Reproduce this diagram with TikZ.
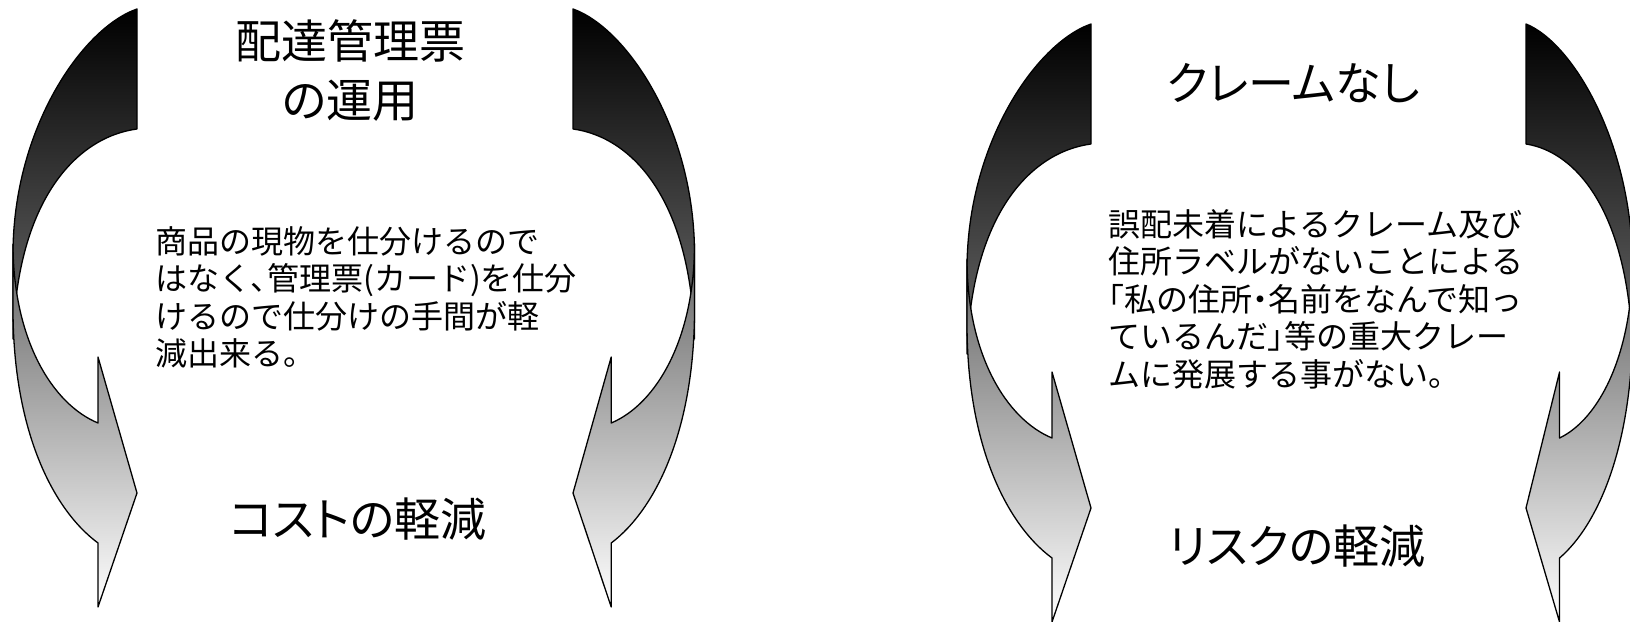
\documentclass[tikz,border=0pt]{standalone}
\usepackage{fontspec}
\newfontfamily\jp{Noto Sans CJK JP}
\newfontfamily\jpp[RawFeature=+palt]{Noto Sans CJK JP}

\newcommand{\backband}{(0,0) .. controls (-55,19) and (-124,120) .. (-124,245) -- (-124,330) .. controls (-120,190) and (-60,128) .. (0,120) -- cycle}
\newcommand{\frontband}{(-124,235) .. controls (-124,330) and (-85,395) .. (-39,414) -- (-39,348) -- (0,484) -- (-39,598) -- (-39,534) .. controls (-85,500) and (-124,420) .. (-124,300) -- cycle}
\newcommand{\bentarrow}[3]{%
  \begin{scope}[shift={(#1,#2)}, xscale=#3]
    \begin{scope}
      \clip \backband;
      \shade[top color=black, bottom color=black!25] (-130,0) rectangle (5,598);
    \end{scope}
    \draw[outline] \backband;
    \begin{scope}
      \clip \frontband;
      \shade[top color=black, bottom color=white] (-130,0) rectangle (5,598);
    \end{scope}
    \draw[outline] \frontband;
  \end{scope}}
\newcommand{\pn}[1]{{\jpp #1}}

\begin{document}
\begin{tikzpicture}[x=1pt, y=-1pt,
            outline/.style={draw=black, line width=1.3pt, line join=round},
            every node/.style={inner sep=0pt},
            heading/.style={font=\jpp\fontsize{46}{59}\selectfont, align=center},
            note/.style={font=\jp\fontsize{32}{37.5}\selectfont, align=left, anchor=base west}
          ]
          \useasboundingbox (0,0) rectangle (1630,621);
          \clip (0,0) rectangle (1630,621);

          \bentarrow{137}{9}{1}
          \bentarrow{573}{9}{-0.98}
          \bentarrow{1091}{24}{1}
          \bentarrow{1526}{24}{-0.86}

          \node[heading] (unyou) at (350,71) {配達管理票\\の運用};
          \node[heading] (cost) at (358,519) {コストの軽減};
          \node[note] (unyounote) at (155,365.5) {商品の現物を仕分けるので\\はなく\pn{、}管理票(カード)を仕分\\けるので仕分けの手間が軽\\減出来る。};

          \node[heading] (noclaim) at (1293,83) {クレームなし};
          \node[heading] (risk) at (1297,546) {リスクの軽減};
          \node[note] (noclaimnote) at (1108,386) {誤配未着によるクレーム及び\\住所ラベルがないことによる\\\pn{「}私の住所\pn{・}名前をなんで知っ\\ているんだ\pn{」}等の重大クレー\\ムに発展する事がない。};
          \end{tikzpicture}
\end{document}
